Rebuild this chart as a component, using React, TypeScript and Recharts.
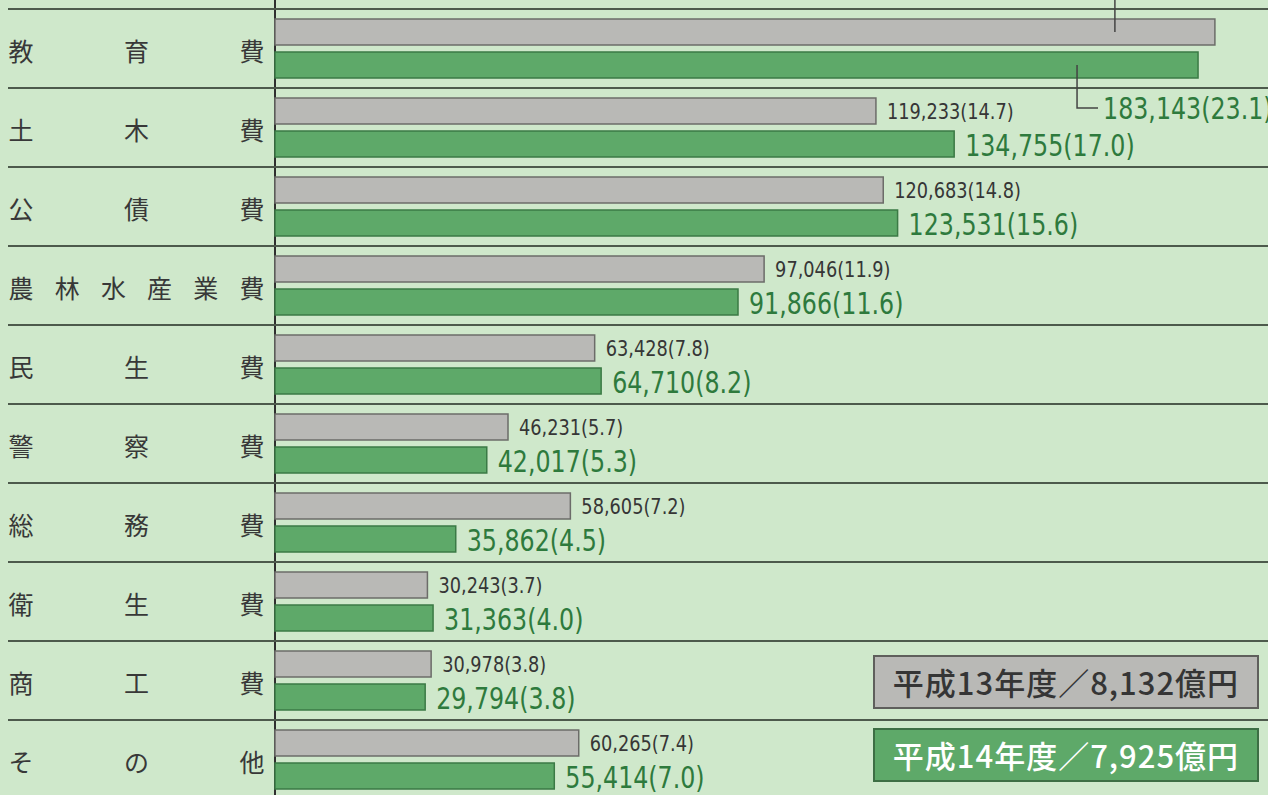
import React from 'react';
import { BarChart, Bar, XAxis, YAxis, CartesianGrid, Legend, LabelList } from 'recharts';

const categories = ['教育費', '土木費', '公債費', '農林水産業費', '民生費', '警察費', '総務費', '衛生費', '商工費', 'その他'];
const h13Values = [186488, 119233, 120683, 97046, 63428, 46231, 58605, 30243, 30978, 60265];
const h13Shares = [22.9, 14.7, 14.8, 11.9, 7.8, 5.7, 7.2, 3.7, 3.8, 7.4];
const h14Values = [183143, 134755, 123531, 91866, 64710, 42017, 35862, 31363, 29794, 55414];
const h14Shares = [23.1, 17.0, 15.6, 11.6, 8.2, 5.3, 4.5, 4.0, 3.8, 7.0];
const xTicks = [0, 50000, 100000, 150000, 200000];
const seriesNames = ['平成13年度／8,132億円', '平成14年度／7,925億円'];

const GREY = '#b9b9b6';
const GREY_EDGE = '#6c6c69';
const GREEN = '#5ea969';
const GREEN_EDGE = '#3b7a45';
const BG = '#cfe8cb';
const NUM_FONT = "'Liberation Sans Narrow', 'DejaVu Sans Condensed', Roboto, sans-serif";

const CHART_W = 1290;
const CHART_H = 800;
const MARGIN = { top: 9, right: 7, bottom: 1, left: 0 };
const ROW = (CHART_H - MARGIN.top - MARGIN.bottom) / categories.length;

const data = categories.map((name, i) => ({
  name,
  h13: h13Values[i],
  h13Share: h13Shares[i],
  h14: h14Values[i],
  h14Share: h14Shares[i],
}));

const fmt = (v: number, share: number) => `${v.toLocaleString('en-US')}(${share.toFixed(1)})`;

// squeezed number text (the print uses a condensed face)
const NumText = ({ x, y, size, fill, squeeze, children }: any) => (
  <g transform={`translate(${x},${y}) scale(${squeeze},1)`}>
    <text x={0} y={0} dominantBaseline="central" fontSize={size} fill={fill} fontFamily={NUM_FONT}>
      {children}
    </text>
  </g>
);

// category label spread out across the axis area + row separator line
const CategoryTick = ({ y, payload }: any) => {
  const chars = String(payload.value).split('');
  const first = 21;
  const last = 252;
  const step = chars.length > 1 ? (last - first) / (chars.length - 1) : 0;
  const top = y - ROW / 2;
  return (
    <g>
      <line x1={8} x2={CHART_W} y1={top} y2={top} stroke="#4d5a4c" strokeWidth={2} />
      {chars.map((c, i) => (
        <text
          key={i}
          x={first + step * i}
          y={y + 1}
          textAnchor="middle"
          dominantBaseline="central"
          fontSize={25}
          fill="#383838"
          fontFamily="'Noto Sans CJK JP', sans-serif"
          fontWeight={400}
        >
          {c}
        </text>
      ))}
    </g>
  );
};

const GreyLabel = (props: any) => {
  const { x, y, width, height, index } = props;
  const end = x + width;
  const cy = y + height / 2;
  if (index === 0) {
    // label sits above the visible area, only the leader shows
    const lx = end - 100;
    return <line x1={lx} x2={lx} y1={cy} y2={-20} stroke="#444" strokeWidth={1.5} />;
  }
  return (
    <NumText x={end + 11} y={cy + 1} size={21} fill="#363636" squeeze={0.94}>
      {fmt(h13Values[index], h13Shares[index])}
    </NumText>
  );
};

const GreenLabel = (props: any) => {
  const { x, y, width, height, index } = props;
  const end = x + width;
  const cy = y + height / 2;
  const text = fmt(h14Values[index], h14Shares[index]);
  if (index === 0) {
    const lx = end - 121;
    const ly = y + height + 30;
    return (
      <g>
        <polyline points={`${lx},${cy} ${lx},${ly} ${lx + 21},${ly}`} fill="none" stroke="#444" strokeWidth={1.5} />
        <NumText x={lx + 26} y={ly + 1} size={30} fill="#2e7a3d" squeeze={0.88}>
          {text}
        </NumText>
      </g>
    );
  }
  return (
    <NumText x={end + 11} y={cy + 2} size={30} fill="#2e7a3d" squeeze={0.88}>
      {text}
    </NumText>
  );
};

const LegendBoxes = ({ payload }: any) => (
  <div>
    {(payload || []).map((entry: any, i: number) => (
      <div
        key={i}
        style={{
          boxSizing: 'border-box',
          width: 386,
          height: 54,
          marginBottom: 19,
          background: entry.color,
          border: `2px solid ${i === 0 ? '#5f5f5c' : '#3d6e44'}`,
          color: i === 0 ? '#353535' : '#fff',
          fontFamily: "'Noto Sans CJK JP', sans-serif",
          fontWeight: 500,
          fontSize: 31,
          lineHeight: '50px',
          textAlign: 'center',
          letterSpacing: 1,
        }}
      >
        {entry.value}
      </div>
    ))}
  </div>
);

export default function App() {
  return (
    <div style={{ position: 'fixed', left: 0, top: 0, width: 1268, height: 795, overflow: 'hidden', background: BG }}>
      <BarChart
        width={CHART_W}
        height={CHART_H}
        data={data}
        layout="vertical"
        margin={MARGIN}
        barSize={26}
        barGap={7}
      >
        <CartesianGrid horizontal={false} stroke="#8fa58d" strokeWidth={1.5} y={0} height={CHART_H} />
        <CartesianGrid
          horizontal={false}
          stroke="#2f2f2f"
          strokeWidth={2}
          y={0}
          height={CHART_H}
          verticalCoordinatesGenerator={({ offset }: any) => [offset.left]}
        />
        <XAxis type="number" domain={[0, 200000]} ticks={xTicks} height={0} tick={false} axisLine={false} tickLine={false} />
        <YAxis
          type="category"
          dataKey="name"
          width={275}
          tick={<CategoryTick />}
          tickLine={false}
          axisLine={false}
          interval={0}
        />
        <Legend
          layout="vertical"
          align="center"
          verticalAlign="middle"
          content={<LegendBoxes />}
          wrapperStyle={{ left: 873, top: 655, width: 386 }}
        />
        <Bar dataKey="h13" name={seriesNames[0]} fill={GREY} stroke={GREY_EDGE} strokeWidth={1.5} isAnimationActive={false}>
          <LabelList dataKey="h13" content={<GreyLabel />} />
        </Bar>
        <Bar dataKey="h14" name={seriesNames[1]} fill={GREEN} stroke={GREEN_EDGE} strokeWidth={1.5} isAnimationActive={false}>
          <LabelList dataKey="h14" content={<GreenLabel />} />
        </Bar>
      </BarChart>
    </div>
  );
}
